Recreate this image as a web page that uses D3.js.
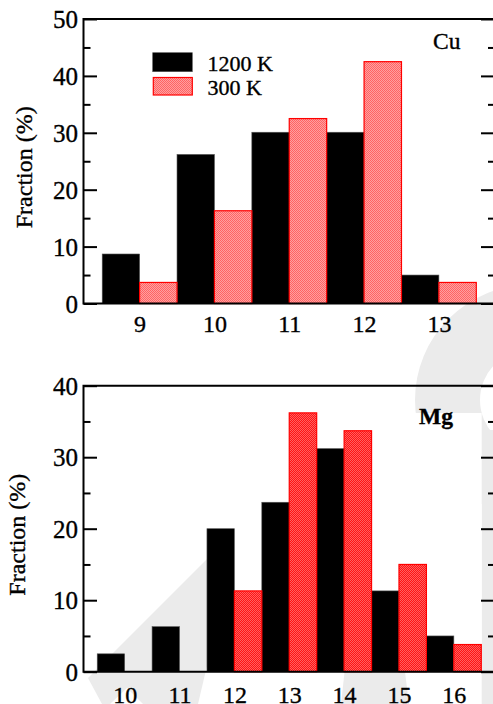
<!DOCTYPE html>
<html>
<head>
<meta charset="utf-8">
<script src="https://cdn.jsdelivr.net/npm/d3@7"></script>
<style>
  html, body { margin: 0; padding: 0; background: #fff; }
  svg { display: block; }
  text { font-family: "Liberation Serif", "Times New Roman", serif; fill: #000; stroke: #000; stroke-width: 0.35px; }
</style>
</head>
<body>
<svg id="chart" width="493" height="704"></svg>
<script>
// ---------- data ----------
const cuCategories = [9, 10, 11, 12, 13];
const cu1200K = [8.7, 26.2, 30.1, 30.1, 5.0];
const cu300K = [3.7, 16.3, 32.5, 42.5, 3.7];
const cuYTicks = [0, 10, 20, 30, 40, 50];
const cuYMinor = [5, 15, 25, 35, 45];

const mgCategories = [10, 11, 12, 13, 14, 15, 16];
const mg1200K = [2.5, 6.3, 20.0, 23.7, 31.2, 11.3, 5.0];
const mg300K = [0, 0, 11.3, 36.2, 33.7, 15.0, 3.8];
const mgYTicks = [0, 10, 20, 30, 40];
const mgYMinor = [5, 15, 25, 35];

const seriesNames = ["1200 K", "300 K"];
const yTitle = "Fraction (%)";

(function () {
const svg = d3.select("#chart");
const defs = svg.append("defs");

function dotPattern(id, base, dot) {
  const p = defs.append("pattern").attr("id", id)
    .attr("patternUnits", "userSpaceOnUse").attr("width", 2).attr("height", 2);
  p.append("rect").attr("width", 2).attr("height", 2).attr("fill", base);
  p.append("rect").attr("width", 1).attr("height", 1).attr("fill", dot);
  p.append("rect").attr("x", 1).attr("y", 1).attr("width", 1).attr("height", 1).attr("fill", dot);
}
dotPattern("redLight", "#ffa0a0", "#ff6464");
dotPattern("redDark", "#ff1414", "#ff6060");

// ---------- faint background watermark ----------
const wm = svg.append("g").attr("fill", "#ebebeb");
wm.append("path").attr("d", d3.line()([[88,678],[222,544],[233,555],[198,704],[143,704],[127,688],[110,704],[102,704]]) + "Z");
const ring = d3.path();
ring.moveTo(645, 400);
ring.arc(530, 400, 115, 0, 2 * Math.PI);
ring.moveTo(580, 400);
ring.arc(530, 400, 50, 0, 2 * Math.PI);
wm.append("path").attr("d", ring.toString()).attr("fill-rule", "evenodd");
wm.append("rect").attr("x", 481.7).attr("y", 430).attr("width", 20).attr("height", 274);
wm.append("path").attr("d", d3.line()([[341,704],[345,668],[405,672],[409,704]]) + "Z");
svg.append("rect").attr("x", 412).attr("y", 413).attr("width", 69.7).attr("height", 258.7).attr("fill", "#fff");

const left = 83.5, right = 495;

function panel(cfg) {
  const g = svg.append("g");
  const x = d3.scaleLinear()
    .domain([cfg.cats[0] - 0.75, cfg.cats[cfg.cats.length - 1] + 0.75])
    .range([left, right]);
  const y = d3.scaleLinear().domain([0, cfg.ymax]).range([cfg.bottom, cfg.top]);

  const rows = cfg.cats.map((c, i) => ({ c, a: cfg.s1[i], b: cfg.s2[i] }));
  g.selectAll(".b1").data(rows.filter(d => d.a > 0)).join("rect")
    .attr("x", d => x(d.c - 0.5)).attr("width", d => x(d.c) - x(d.c - 0.5))
    .attr("y", d => y(d.a)).attr("height", d => y(0) - y(d.a))
    .attr("fill", "#000").attr("stroke", "#555").attr("stroke-width", 0.6);
  g.selectAll(".b2").data(rows.filter(d => d.b > 0)).join("rect")
    .attr("x", d => x(d.c)).attr("width", d => x(d.c + 0.5) - x(d.c))
    .attr("y", d => y(d.b)).attr("height", d => y(0) - y(d.b))
    .attr("fill", `url(#${cfg.pattern})`).attr("stroke", "#ff0000").attr("stroke-width", 1.2);

  g.append("path")
    .attr("d", `M${right},${cfg.top}H${left}V${cfg.bottom}H${right}`)
    .attr("fill", "none").attr("stroke", "#000").attr("stroke-width", 2);

  const la = g.append("g").attr("transform", `translate(${left},0)`)
    .call(d3.axisLeft(y).tickValues(cfg.ticks).tickSize(-13.5).tickPadding(5.5).tickFormat(d3.format("d")));
  const lm = g.append("g").attr("transform", `translate(${left},0)`)
    .call(d3.axisLeft(y).tickValues(cfg.minor).tickSize(-7).tickFormat(""));
  const ra = g.append("g").attr("transform", `translate(${right},0)`)
    .call(d3.axisRight(y).tickValues(cfg.ticks).tickSize(-14).tickFormat(""));
  const rm = g.append("g").attr("transform", `translate(${right},0)`)
    .call(d3.axisRight(y).tickValues(cfg.minor).tickSize(-7).tickFormat(""));
  [la, lm, ra, rm].forEach(a => {
    a.select(".domain").remove();
    a.selectAll("line").attr("stroke", "#000").attr("stroke-width", 2);
  });
  la.selectAll("text").attr("font-size", 25).attr("fill", "#000").attr("dy", "0.34em");

  const xa = g.append("g").attr("transform", `translate(0,${cfg.bottom})`)
    .call(d3.axisBottom(x).tickValues(cfg.cats).tickSize(0).tickFormat(d3.format("d")));
  xa.select(".domain").remove();
  xa.selectAll("text").attr("y", cfg.labelOffset).attr("dy", 0)
    .attr("font-size", 24).attr("fill", "#000");

  g.append("text")
    .attr("transform", `translate(${cfg.titleX},${(cfg.top + cfg.bottom) / 2 + cfg.titleShift}) rotate(-90)`)
    .attr("text-anchor", "middle").attr("font-size", 24).text(yTitle);

  g.append("text").attr("x", cfg.labelX).attr("y", cfg.labelY)
    .attr("font-size", cfg.labelSize).attr("font-weight", cfg.labelWeight).text(cfg.name);
}

panel({
  cats: cuCategories, s1: cu1200K, s2: cu300K, ticks: cuYTicks, minor: cuYMinor,
  ymax: 50, top: 19, bottom: 303.5, pattern: "redLight", labelOffset: 28,
  titleX: 31.5, titleShift: 6, name: "Cu", labelX: 433, labelY: 49.3, labelSize: 23.5, labelWeight: "normal"
});
panel({
  cats: mgCategories, s1: mg1200K, s2: mg300K, ticks: mgYTicks, minor: mgYMinor,
  ymax: 40, top: 385.7, bottom: 671.7, pattern: "redDark", labelOffset: 31,
  titleX: 25, titleShift: 6, name: "Mg", labelX: 419, labelY: 424, labelSize: 23.5, labelWeight: "bold"
});

const lg = svg.append("g");
lg.append("rect").attr("x", 152.7).attr("y", 52.7).attr("width", 39.6).attr("height", 19)
  .attr("fill", "#000").attr("stroke", "#555").attr("stroke-width", 0.6);
lg.append("rect").attr("x", 153.3).attr("y", 77.5).attr("width", 39).attr("height", 17.5)
  .attr("fill", "url(#redLight)").attr("stroke", "#ff0000").attr("stroke-width", 1.2);
lg.append("text").attr("x", 207.5).attr("y", 70.5).attr("font-size", 22).text(seriesNames[0]);
lg.append("text").attr("x", 207.5).attr("y", 95).attr("font-size", 22).text(seriesNames[1]);
})();
</script>
</body>
</html>
